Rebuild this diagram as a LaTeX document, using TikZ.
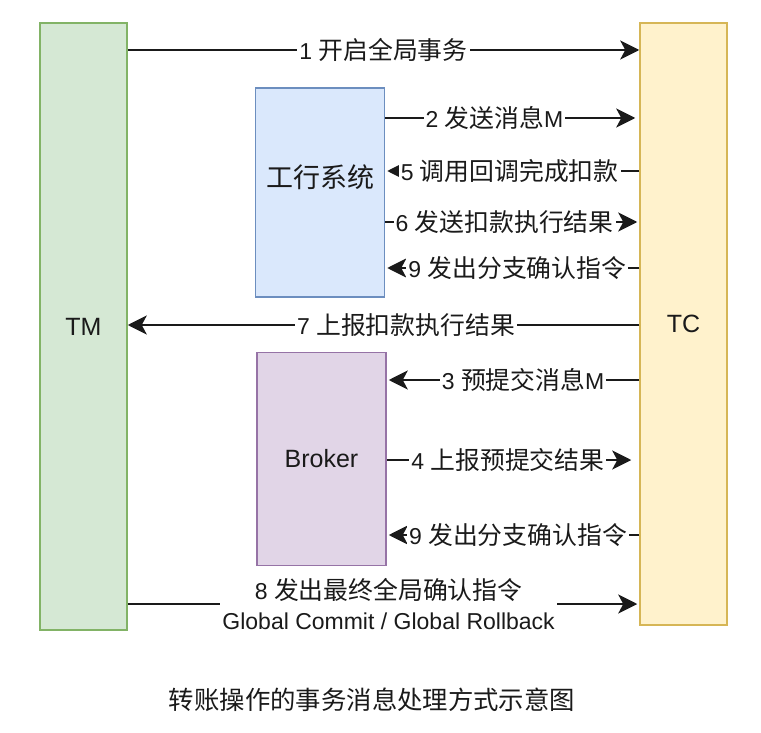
\documentclass[tikz,border=0pt]{standalone}
\usepackage{fontspec}
\setmainfont{Liberation Sans}
\newfontfamily\cjk{Noto Sans CJK SC}[Scale=1.08]
\usepackage{xcolor}
\usetikzlibrary{arrows.meta, positioning}
\definecolor{ink}{HTML}{1A1A1A}
\definecolor{tmfill}{HTML}{D5E8D4}
\definecolor{tmline}{HTML}{82B366}
\definecolor{tcfill}{HTML}{FFF2CC}
\definecolor{tcline}{HTML}{D6B656}
\definecolor{bkfill}{HTML}{DAE8FC}
\definecolor{bkline}{HTML}{6C8EBF}
\definecolor{brfill}{HTML}{E1D5E7}
\definecolor{brline}{HTML}{9673A6}
\newcommand{\zh}[1]{{\cjk #1}}

\begin{document}
\begin{tikzpicture}[x=1pt, y=-1pt, text=ink, font=\fontsize{25}{30}\selectfont,
      lane/.style={draw, line width=1.5pt, minimum width=87pt, inner sep=0pt},
      sys/.style={draw, line width=1.5pt, minimum width=129pt, inner sep=0pt},
      msg/.style={draw=ink, line width=2pt, -{Stealth[length=19pt, width=19pt, inset=5pt]}},
      lbl/.style={fill=white, text=ink, inner xsep=2pt, inner ysep=1pt, align=center, font=\fontsize{23}{30}\selectfont}]
    \useasboundingbox (0,0) rectangle (761,733);
    \node[lane, fill=tmfill, draw=tmline, minimum height=607pt] (tm) at (83.5,326.5) {TM};
    \node[lane, fill=tcfill, draw=tcline, minimum height=602pt] (tc) at (683.5,324) {TC};
    \node[sys, fill=bkfill, draw=bkline, minimum height=209pt,
      label={[yshift=15pt, text=ink]center:\zh{工行系统}}] (bank) at (320,192.5) {};
    \node[sys, fill=brfill, draw=brline, minimum height=213pt] (broker) at (321.5,459) {Broker};
    \coordinate (r1) at (0,50);
    \coordinate (r2) at (0,118);
    \coordinate (r5) at (0,171);
    \coordinate (r6) at (0,222);
    \coordinate (r9) at (0,268);
    \coordinate (r7) at (0,325);
    \coordinate (r3) at (0,380);
    \coordinate (r4) at (0,460);
    \coordinate (r9b) at (0,535);
    \coordinate (r8) at (0,604);
    \draw[msg] (tm.east |- r1) -- node[lbl, pos=0.5]{1 \zh{开启全局事务}} (tc.west |- r1);
    \draw[msg, shorten >=4pt] (bank.east |- r2) -- node[lbl, pos=0.43]{2 \zh{发送消息}M} (tc.west |- r2);
    \draw[msg, shorten >=2pt] (tc.west |- r5) -- node[lbl, pos=0.51]{5 \zh{调用回调完成扣款}} (bank.east |- r5);
    \draw[msg, shorten >=2pt] (bank.east |- r6) -- node[lbl, pos=0.47]{6 \zh{发送扣款执行结果}} (tc.west |- r6);
    \draw[msg, shorten >=2pt] (tc.west |- r9) -- node[lbl, pos=0.48]{9 \zh{发出分支确认指令}} (bank.east |- r9);
    \draw[msg] (tc.west |- r7) -- node[lbl, pos=0.456]{7 \zh{上报扣款执行结果}} (tm.east |- r7);
    \draw[msg, shorten >=2pt] (tc.west |- r3) -- node[lbl, pos=0.46]{3 \zh{预提交消息}M} (broker.east |- r3);
    \draw[msg, shorten >=8pt] (broker.east |- r4) -- node[lbl, pos=0.48]{4 \zh{上报预提交结果}} (tc.west |- r4);
    \draw[msg, shorten >=2pt] (tc.west |- r9b) -- node[lbl, pos=0.48]{9 \zh{发出分支确认指令}} (broker.east |- r9b);
    \draw[msg, shorten >=2pt] (tm.east |- r8) -- node[lbl, pos=0.51]{8 \zh{发出最终全局确认指令}\\Global Commit / Global Rollback} (tc.west |- r8);
    \node[font=\fontsize{23.5}{28}\selectfont] (cap) at (372,700) {\zh{转账操作的事务消息处理方式示意图}};
  \end{tikzpicture}
\end{document}
